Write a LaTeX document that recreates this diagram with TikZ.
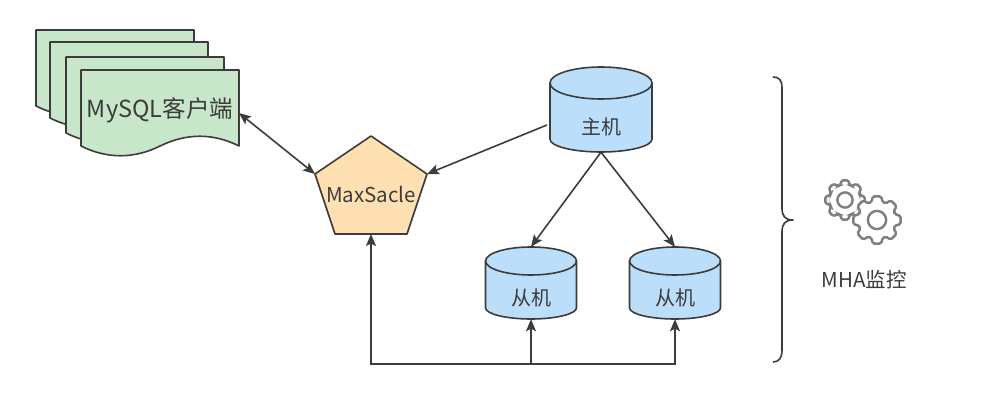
\documentclass[tikz,border=0pt]{standalone}
\usepackage{fontspec}
\setmainfont{Noto Sans CJK SC}
\usetikzlibrary{arrows.meta}
\definecolor{inkgray}{HTML}{3C3C3C}
\definecolor{sheetgreen}{HTML}{C8E6C9}
\definecolor{proxyorange}{HTML}{FFE0B2}
\definecolor{dbblue}{HTML}{BBDEFB}
\definecolor{geargray}{HTML}{7E7E7E}
\tikzset{
  box/.style={draw=inkgray,line width=1.6pt,line join=round},
  link/.style={draw=inkgray,line width=1.6pt,-{Stealth[length=12pt,width=10pt,inset=2.5pt]}},
  label/.style={text=inkgray,inner sep=0pt},
  geartooth/.style={draw=geargray,line width=2.4pt,fill=white,rounded corners=1.6pt}
}
% name, centre x, top y, half width, height, ellipse ry, label y, text
\newcommand{\dbcyl}[8]{
  \begin{scope}[shift={(#2,#3)}]
    \draw[box,fill=dbblue] (-#4,#6) -- (-#4,#5-.8*#6)
      .. controls (-#4,#5-.36*#6) and (-.55*#4,#5) .. (0,#5)
      .. controls (.55*#4,#5) and (#4,#5-.36*#6) .. (#4,#5-.8*#6) -- (#4,#6)
      .. controls (#4,.45*#6) and (.55*#4,0) .. (0,0)
      .. controls (-.55*#4,0) and (-#4,.45*#6) .. (-#4,#6) -- cycle;
    \draw[box] (-#4,#6) .. controls (-#4,1.55*#6) and (-.55*#4,2*#6) .. (0,2*#6)
      .. controls (.55*#4,2*#6) and (#4,1.55*#6) .. (#4,#6);
    \node[minimum width=2*#4 pt,minimum height=#5 pt,inner sep=0pt] (#1) at (0,#5/2) {};
    \node[label,font=\fontsize{20}{22}\selectfont] (#1Label) at (0,#7) {#8};
  \end{scope}
}
% centre x, centre y, outer radius
\newcommand{\gearicon}[3]{
  \begin{scope}[shift={(#1,#2)}]
    \draw[geartooth] (-22.5+5:.78*#3) \foreach \a in {0,45,...,315} {
      -- (\a-22.5+5:.78*#3) -- (\a-10:#3) -- (\a+10:#3) -- (\a+22.5-5:.78*#3)
    } -- cycle;
    \draw[draw=geargray,line width=2.4pt] (0,0) circle (.38*#3 pt);
  \end{scope}
}

\begin{document}
\begin{tikzpicture}[x=1pt,y=-1pt]
  \useasboundingbox (0,0) rectangle (999,403);

  % client sheets
  \foreach \sx/\sy in {36/30,50/42,66/57,81/70} {
    \begin{scope}[shift={(\sx,\sy)}]
      \draw[box,fill=sheetgreen] (0,0) -- (158,0) -- (158,76)
        .. controls (132,63) and (106,63) .. (79,76)
        .. controls (53,89) and (26,89) .. (0,76) -- cycle;
    \end{scope}
  }
  \node[label,font=\fontsize{23.5}{26}\selectfont] (client) at (160,110) {MySQL客户端};
  \coordinate (clientPort) at (239,113);

  % proxy
  \coordinate (maxTop) at (371,136);
  \coordinate (maxRight) at (427,174);
  \coordinate (maxLeft) at (315,174);
  \coordinate (maxBottom) at (371,234);
  \draw[box,fill=proxyorange] (maxTop) -- (maxRight) -- (407,234) -- (335,234) -- (maxLeft) -- cycle;
  \node[label,font=\fontsize{20.5}{23}\selectfont] (maxscale) at (371,194) {MaxSacle};

  % databases
  \dbcyl{master}{601}{67}{51}{85}{16}{60}{主机}
  \dbcyl{slaveA}{531}{247}{45.5}{72}{14}{51}{从机}
  \dbcyl{slaveB}{675}{247}{45.5}{72}{14}{51}{从机}

  \coordinate (masterPort) at (547,125);
  \coordinate (bus) at (531,364);

  \draw[link,{Stealth[length=12pt,width=10pt,inset=2.5pt]}-{Stealth[length=12pt,width=10pt,inset=2.5pt]}] (clientPort) -- (maxLeft);
  \draw[link] (masterPort) -- (maxRight);
  \draw[link] (master.south) -- (slaveA.north);
  \draw[link] (master.south) -- (slaveB.north);
  \draw[link] (bus) -- (slaveA.south);
  \draw[link] (bus) -| (slaveB.south);
  \draw[link] (bus) -| (maxBottom);

  % monitor
  \draw[box] (773,77) .. controls (779,77) and (782,80) .. (782,88) -- (782,208)
    .. controls (782,216) and (785,220) .. (793,220)
    .. controls (785,220) and (782,224) .. (782,232) -- (782,350)
    .. controls (782,358) and (779,362) .. (773,362);
  \gearicon{845}{200}{20}
  \gearicon{877}{220}{24}
  \node[label,font=\fontsize{20.5}{23}\selectfont] (mha) at (864,280) {MHA监控};
\end{tikzpicture}
\end{document}
